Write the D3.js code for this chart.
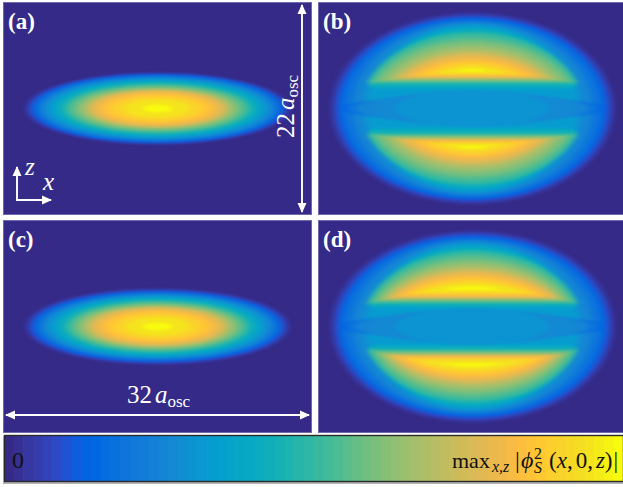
<!DOCTYPE html>
<html>
<head>
<meta charset="utf-8">
<script src="https://cdn.jsdelivr.net/npm/d3@7"></script>
<style>
  html, body { margin: 0; padding: 0; background: #fff; }
  svg { display: block; }
  text { font-family: "Liberation Serif", serif; }
  .white { fill: #fff; }
  .arrow { stroke: #fff; stroke-width: 1.9; fill: none; }
</style>
</head>
<body>
<div id="chart"></div>
<script>
// parula, as the colour bar shows it: 64 steps, [r, g, b] 0-1
const parula = [
  [.2081,.1663,.5292],[.2116,.1898,.5777],[.2123,.2138,.6270],[.2081,.2386,.6771],
  [.1959,.2645,.7279],[.1707,.2919,.7792],[.1253,.3242,.8303],[.0591,.3598,.8683],
  [.0117,.3875,.8820],[.0060,.4086,.8828],[.0165,.4266,.8786],[.0329,.4430,.8720],
  [.0498,.4586,.8641],[.0629,.4737,.8554],[.0723,.4887,.8467],[.0779,.5040,.8384],
  [.0793,.5200,.8312],[.0749,.5375,.8263],[.0641,.5570,.8240],[.0488,.5772,.8228],
  [.0343,.5966,.8199],[.0265,.6137,.8135],[.0239,.6287,.8038],[.0231,.6418,.7913],
  [.0228,.6535,.7768],[.0267,.6642,.7607],[.0384,.6743,.7436],[.0590,.6838,.7254],
  [.0843,.6928,.7062],[.1133,.7015,.6859],[.1453,.7098,.6646],[.1801,.7177,.6424],
  [.2178,.7250,.6193],[.2586,.7317,.5954],[.3022,.7376,.5712],[.3482,.7424,.5473],
  [.3953,.7459,.5244],[.4420,.7481,.5033],[.4871,.7491,.4840],[.5300,.7491,.4661],
  [.5709,.7485,.4494],[.6099,.7473,.4337],[.6473,.7456,.4188],[.6834,.7435,.4044],
  [.7184,.7411,.3905],[.7525,.7384,.3768],[.7858,.7356,.3633],[.8185,.7327,.3498],
  [.8507,.7299,.3360],[.8824,.7274,.3217],[.9139,.7258,.3063],[.9450,.7261,.2886],
  [.9739,.7314,.2666],[.9938,.7455,.2403],[.9990,.7653,.2164],[.9955,.7861,.1967],
  [.9880,.8066,.1794],[.9789,.8271,.1633],[.9697,.8481,.1475],[.9626,.8705,.1309],
  [.9589,.8949,.1132],[.9598,.9218,.0948],[.9661,.9514,.0755],[.9763,.9831,.0538]
].map(c => d3.rgb(c[0] * 255, c[1] * 255, c[2] * 255).formatHex())

// density contours, lengths in a_osc
const singleLevels = [.02, .05, .1, .15, .2, .25, .3, .35, .4, .45, .5, .55, .6, .65, .7, .75, .8, .85, .9, .95, .99]
const aRx = [13.8, 13.6, 13.25, 12.9, 12.5, 12.05, 11.55, 11.05, 10.55, 10.05, 9.55, 9.05, 8.5, 7.95, 7.5, 7.1, 6.5, 5.7, 4.7, 3.4, 1.5]
const aRz = [3.8, 3.7, 3.6, 3.5, 3.38, 3.25, 3.12, 3, 2.85, 2.7, 2.55, 2.4, 2.25, 2.1, 2, 1.9, 1.75, 1.55, 1.25, .95, .4]
const cRx = [13.8, 13.55, 13.2, 12.8, 12.4, 11.9, 11.4, 10.9, 10.4, 9.9, 9.4, 8.9, 8.4, 7.9, 7.45, 7, 6.4, 5.6, 4.6, 3.3, 1.5]
const cRz = [4, 3.9, 3.75, 3.6, 3.48, 3.35, 3.22, 3.1, 2.95, 2.8, 2.65, 2.5, 2.35, 2.2, 2.1, 2, 1.8, 1.6, 1.3, .95, .4]

const doubleLevels = [.02, .05, .1, .15, .2, .25, .3, .33, .35, .4, .45, .5, .55, .6, .65, .7, .75, .8, .85, .9, .95, .99]
const bRx = [14.8, 14.6, 14.2, 13.8, 13.3, 12.4, 11.4, 10.8, 10.7, 11, 11.3, 11.6, 11.2, 10.8, 10.2, 9.6, 9.3, 8.8, 8.2, 7.4, 6.5, 5]
const bRz = [10, 9.8, 9.55, 9.35, 9.15, 8.95, 8.75, 8.6, 8.5, 8.3, 8.05, 7.8, 7.35, 6.95, 6.5, 6.1, 5.75, 5.4, 5, 4.7, 4.35, 4.1]
const bCut = [0, 0, 0, 0, 0, 0, 0, 0, 1.9, 2.1, 2.35, 2.6, 2.7, 2.85, 2.95, 3.05, 3.15, 3.25, 3.35, 3.5, 3.65, 3.85]
const dRx = [14.8, 14.6, 14.2, 13.8, 13.3, 12.4, 11.4, 10.8, 10.7, 11, 11.3, 11.5, 11.1, 10.8, 10.5, 10.3, 10.1, 9.9, 9.5, 9.2, 8.8, 7.5]
const dRz = [10, 9.8, 9.55, 9.3, 9.1, 8.9, 8.7, 8.55, 8.45, 8.25, 8, 7.75, 7.35, 6.95, 6.55, 6.2, 5.85, 5.5, 5.15, 4.8, 4.45, 4.15]
const dCut = [0, 0, 0, 0, 0, 0, 0, 0, 1.8, 2, 2.2, 2.4, 2.5, 2.65, 2.75, 2.85, 2.95, 3.05, 3.2, 3.35, 3.55, 3.8]

// the darker band between the two lobes of (b) and (d), painted over the shells
const bandLevels = [.15, .2, .25, .28, .3]
const bandRx = [13.8, 13, 12, 10.5, 8]
const bandRz = [1.2, 1.4, 1.6, 1.8, 1.9]

const panelNames = ['a', 'b', 'c', 'd']
const barSteps = d3.range(64)

const panelW = 309
const panelH = 213

const xScale = d3.scaleLinear().domain([-16, 16]).range([0, panelW])
const zScale = d3.scaleLinear().domain([-11, 11]).range([panelH, 0])
const colorScale = d3.scaleQuantize().domain([0, 1]).range(parula)

const svg = d3.select('#chart').append('svg')
  .attr('width', 623)
  .attr('height', 487)

const defs = svg.append('defs')

const blur = defs.append('filter')
  .attr('id', 'soft')
  .attr('filterUnits', 'userSpaceOnUse')
  .attr('x', -20).attr('y', -20)
  .attr('width', panelW + 40).attr('height', panelH + 40)
  .attr('color-interpolation-filters', 'sRGB')
blur.append('feGaussianBlur').attr('stdDeviation', '2.4 1')

defs.append('clipPath').attr('id', 'panel-clip')
  .append('rect').attr('width', panelW).attr('height', panelH)

defs.selectAll('marker')
  .data(['head'])
  .enter()
  .append('marker')
  .attr('id', d => d)
  .attr('viewBox', '0 0 10 10')
  .attr('refX', 9).attr('refY', 5)
  .attr('markerUnits', 'userSpaceOnUse')
  .attr('markerWidth', 10).attr('markerHeight', 10)
  .attr('orient', 'auto-start-reverse')
  .append('path')
  .attr('d', 'M0,0.5L10,5L0,9.5Z')
  .attr('fill', '#fff')

function drawContours(parent, name, levels, rx, rz, cut) {
  levels.forEach((level, i) => {
    const c = cut ? cut[i] : 0
    let clip = null
    if (c > 0) {
      // lobes: contour stops flat at |z| = c
      const id = `cut-${name}-${i}`
      const cp = defs.append('clipPath').attr('id', id)
      cp.append('rect').attr('x', -20).attr('y', -20)
        .attr('width', panelW + 40).attr('height', zScale(c) + 20)
      cp.append('rect').attr('x', -20).attr('y', zScale(-c))
        .attr('width', panelW + 40).attr('height', panelH - zScale(-c) + 20)
      clip = `url(#${id})`
    }
    parent.append('ellipse')
      .attr('cx', xScale(0)).attr('cy', zScale(0))
      .attr('rx', xScale(rx[i]) - xScale(0))
      .attr('ry', zScale(0) - zScale(rz[i]))
      .attr('fill', colorScale(level))
      .attr('clip-path', clip)
  })
}

function drawPanel(name, left, top, levels, rx, rz, cut) {
  const g = svg.append('g').attr('transform', `translate(${left},${top})`)

  g.append('rect')
    .attr('width', panelW).attr('height', panelH)
    .attr('fill', parula[0])

  const contours = g.append('g').attr('clip-path', 'url(#panel-clip)')
    .append('g').attr('filter', 'url(#soft)')

  drawContours(contours, name, levels, rx, rz, cut)
  if (cut) drawContours(contours, `${name}-band`, bandLevels, bandRx, bandRz)

  g.append('rect')
    .attr('x', 0.5).attr('y', 0.5)
    .attr('width', panelW - 1).attr('height', panelH - 1)
    .attr('fill', 'none')
    .attr('stroke', '#6f69ad')

  g.append('text')
    .attr('class', 'white')
    .attr('x', 5).attr('y', 26.5)
    .attr('font-size', 23)
    .attr('font-weight', 'bold')
    .text(`(${name})`)

  return g
}

const panelA = drawPanel(panelNames[0], 3, 2, singleLevels, aRx, aRz)
drawPanel(panelNames[1], 318, 2, doubleLevels, bRx, bRz, bCut)
const panelC = drawPanel(panelNames[2], 3, 220, singleLevels, cRx, cRz)
drawPanel(panelNames[3], 318, 220, doubleLevels, dRx, dRz, dCut)

// 22 a_osc arrow and its label
panelA.append('line')
  .attr('class', 'arrow')
  .attr('x1', 299).attr('x2', 299)
  .attr('y1', zScale(-11) - 3).attr('y2', zScale(11) + 3)
  .attr('marker-start', 'url(#head)').attr('marker-end', 'url(#head)')

const sizeLabel = (sel, number) => {
  sel.attr('class', 'white').attr('font-size', 25)
  sel.append('tspan').text(number)
  sel.append('tspan').attr('dx', 3).attr('font-style', 'italic').text('a')
  sel.append('tspan').attr('dy', 4).attr('font-size', 17).text('osc')
}

panelA.append('text')
  .attr('transform', 'translate(291,136) rotate(-90)')
  .call(sizeLabel, '22')

// 32 a_osc arrow and its label
panelC.append('line')
  .attr('class', 'arrow')
  .attr('x1', xScale(-16) + 3).attr('x2', xScale(16) - 3)
  .attr('y1', 195).attr('y2', 195)
  .attr('marker-start', 'url(#head)').attr('marker-end', 'url(#head)')

panelC.append('text')
  .attr('x', 124).attr('y', 183)
  .call(sizeLabel, '32')

// x, z axes in panel (a)
panelA.append('path')
  .attr('class', 'arrow')
  .attr('d', 'M14,198H48')
  .attr('marker-end', 'url(#head)')
panelA.append('path')
  .attr('class', 'arrow')
  .attr('d', 'M14,199V165')
  .attr('marker-end', 'url(#head)')
panelA.append('text').attr('class', 'white')
  .attr('x', 22).attr('y', 173)
  .attr('font-size', 25).attr('font-style', 'italic').text('z')
panelA.append('text').attr('class', 'white')
  .attr('x', 40).attr('y', 188)
  .attr('font-size', 25).attr('font-style', 'italic').text('x')

// colour bar
const barX = d3.scaleBand().domain(barSteps).range([4, 623])
const barY = 435
const barH = 47

svg.append('rect')
  .attr('x', 3).attr('y', barY + 1)
  .attr('width', 620).attr('height', barH + 1)
  .attr('fill', '#b5b5b5')

svg.selectAll('.step')
  .data(barSteps)
  .enter()
  .append('rect')
  .attr('class', 'step')
  .attr('x', d => barX(d))
  .attr('y', barY)
  .attr('width', barX.bandwidth() + 0.5)
  .attr('height', barH)
  .attr('fill', d => parula[d])

svg.append('rect')
  .attr('x', 4.5).attr('y', barY + 0.5)
  .attr('width', 619).attr('height', barH - 1)
  .attr('fill', 'none')
  .attr('stroke', '#2a2a2a')
  .attr('stroke-width', 1.4)

svg.append('text')
  .attr('x', 12).attr('y', 468)
  .attr('font-size', 24)
  .attr('fill', '#111')
  .text('0')

const barLabel = svg.append('text')
  .attr('y', 468)
  .attr('font-size', 22)
  .attr('fill', '#111')

barLabel.append('tspan').attr('x', 452).text('max')
barLabel.append('tspan').attr('x', 492).attr('dy', 4).attr('font-size', 16).attr('font-style', 'italic').text('x,z')
barLabel.append('tspan').attr('x', 515).attr('dy', -4).attr('font-size', 24).text('|')
barLabel.append('tspan').attr('x', 521).attr('font-size', 24).attr('font-style', 'italic').text('\u03d5')
barLabel.append('tspan').attr('x', 534).attr('dy', -9).attr('font-size', 16).text('2')
barLabel.append('tspan').attr('x', 534).attr('dy', 14).attr('font-size', 16).attr('font-style', 'italic').text('S')
barLabel.append('tspan').attr('x', 549).attr('dy', -5).attr('font-size', 23).text('(')
barLabel.append('tspan').attr('font-size', 23).attr('font-style', 'italic').text('x')
barLabel.append('tspan').attr('font-size', 23).text(',')
barLabel.append('tspan').attr('dx', 3).attr('font-size', 23).text('0,')
barLabel.append('tspan').attr('dx', 3).attr('font-size', 23).attr('font-style', 'italic').text('z')
barLabel.append('tspan').attr('font-size', 23).text(')')
barLabel.append('tspan').attr('dx', 1).attr('font-size', 23).text('|')
</script>
</body>
</html>
